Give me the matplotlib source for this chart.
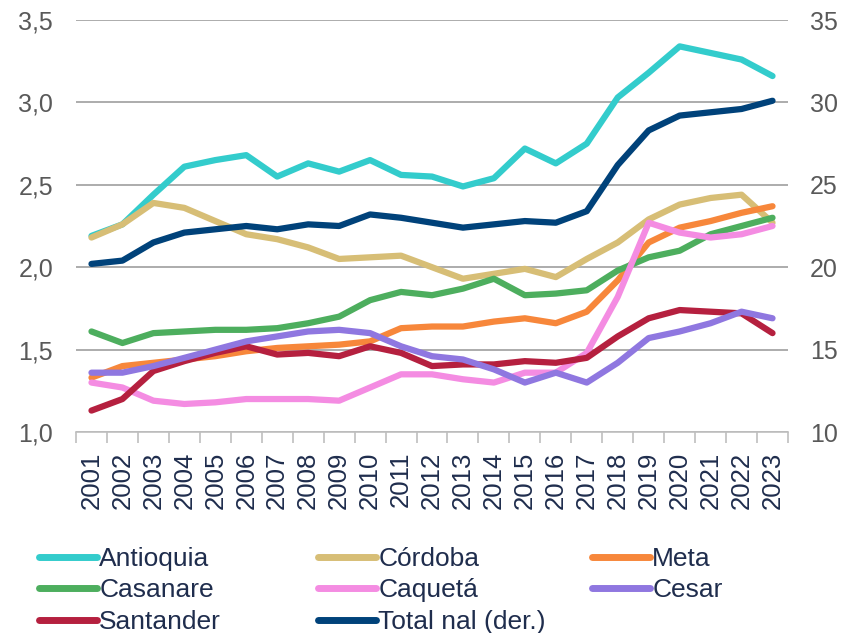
import matplotlib
matplotlib.use("Agg")
import matplotlib.pyplot as plt
from matplotlib.lines import Line2D

plt.rcParams['font.family'] = ['Liberation Sans', 'DejaVu Sans']

years = [str(y) for y in range(2001, 2024)]

antioquia = [2.19, 2.26, 2.44, 2.61, 2.65, 2.68, 2.55, 2.63, 2.58, 2.65, 2.56, 2.55,
             2.49, 2.54, 2.72, 2.63, 2.75, 3.03, 3.18, 3.34, 3.30, 3.26, 3.16]
cordoba = [2.18, 2.26, 2.39, 2.36, 2.28, 2.20, 2.17, 2.12, 2.05, 2.06, 2.07, 2.00,
           1.93, 1.96, 1.99, 1.94, 2.05, 2.15, 2.29, 2.38, 2.42, 2.44, 2.27]
meta = [1.33, 1.40, 1.42, 1.44, 1.46, 1.49, 1.51, 1.52, 1.53, 1.55, 1.63, 1.64,
        1.64, 1.67, 1.69, 1.66, 1.73, 1.92, 2.15, 2.24, 2.28, 2.33, 2.37]
casanare = [1.61, 1.54, 1.60, 1.61, 1.62, 1.62, 1.63, 1.66, 1.70, 1.80, 1.85, 1.83,
            1.87, 1.93, 1.83, 1.84, 1.86, 1.98, 2.06, 2.10, 2.20, 2.25, 2.30]
caqueta = [1.30, 1.27, 1.19, 1.17, 1.18, 1.20, 1.20, 1.20, 1.19, 1.27, 1.35, 1.35,
           1.32, 1.30, 1.36, 1.36, 1.48, 1.82, 2.27, 2.21, 2.18, 2.20, 2.25]
cesar = [1.36, 1.36, 1.40, 1.45, 1.50, 1.55, 1.58, 1.61, 1.62, 1.60, 1.52, 1.46,
         1.44, 1.38, 1.30, 1.36, 1.30, 1.42, 1.57, 1.61, 1.66, 1.73, 1.69]
santander = [1.13, 1.20, 1.37, 1.43, 1.48, 1.52, 1.47, 1.48, 1.46, 1.52, 1.48, 1.40,
             1.41, 1.41, 1.43, 1.42, 1.45, 1.58, 1.69, 1.74, 1.73, 1.72, 1.60]
total_nal = [20.2, 20.4, 21.5, 22.1, 22.3, 22.5, 22.3, 22.6, 22.5, 23.2, 23.0, 22.7,
             22.4, 22.6, 22.8, 22.7, 23.4, 26.2, 28.3, 29.2, 29.4, 29.6, 30.1]

series = [
    ("Antioquia", antioquia, "#33CCCC"),
    ("Córdoba", cordoba, "#D7BE76"),
    ("Meta", meta, "#F7873B"),
    ("Casanare", casanare, "#4DAE5E"),
    ("Caquetá", caqueta, "#F48CE2"),
    ("Santander", santander, "#B5203F"),
    ("Cesar", cesar, "#8F77E0"),
]
total_label = "Total nal (der.)"
total_color = "#00427A"

W, H = 843, 633
fig = plt.figure(figsize=(W / 100, H / 100), dpi=100)
left, right, bottom, top = 76 / W, 788 / W, 1 - 432 / H, 1 - 20 / H
ax = fig.add_axes([left, bottom, right - left, top - bottom])
ax2 = ax.twinx()

x = list(range(len(years)))
lw = 4.5
handles = {}
for name, vals, col in series:
    ax.plot(x, vals, color=col, lw=lw, solid_capstyle='round',
            solid_joinstyle='round', zorder=3)
    handles[name] = col
ax2.plot(x, total_nal, color=total_color, lw=lw, solid_capstyle='round',
         solid_joinstyle='round', zorder=3)
handles[total_label] = total_color

ax.set_xlim(-0.5, len(years) - 0.5)
ax.set_ylim(1.0, 3.5)
ax2.set_ylim(10, 35)
yt = [1.0, 1.5, 2.0, 2.5, 3.0, 3.5]
ax.set_yticks(yt)
ax.set_yticklabels([f"{v:.1f}".replace('.', ',') for v in yt])
ax2.set_yticks([10, 15, 20, 25, 30, 35])
ax.grid(axis='y', color='#A6A6A6', lw=1.3, zorder=0)
ax.set_axisbelow(True)

ax.set_xticks(x)
ax.set_xticklabels(years, rotation=90, color='#1F2D4D', fontsize=18.5)
ax.set_xticks([i - 0.5 for i in range(len(years) + 1)], minor=True)
ax.tick_params(axis='x', which='major', length=0, pad=14)
ax.tick_params(axis='x', which='minor', length=8, color='#BFBFBF', width=1.2)
ax.tick_params(axis='y', length=0, pad=16.5, labelcolor='#595959', labelsize=18)
ax2.tick_params(axis='y', length=0, pad=16, labelcolor='#595959', labelsize=18)

for a in (ax, ax2):
    for s in ('left', 'right', 'top'):
        a.spines[s].set_visible(False)
    a.spines['bottom'].set_color('#BFBFBF')
    a.spines['bottom'].set_linewidth(1.2)
ax2.spines['bottom'].set_visible(False)

cols = [
    (["Antioquia", "Casanare", "Santander"], 39),
    (["Córdoba", "Caquetá", total_label], 318),
    (["Meta", "Cesar"], 592),
]
for names, xpx in cols:
    hs = [Line2D([0], [0], color=handles[n], lw=5, solid_capstyle='round') for n in names]
    leg = fig.legend(hs, names, loc='upper left', bbox_to_anchor=(xpx / W, 1 - 547 / H),
                     frameon=False, fontsize=19, handlelength=2.2, handletextpad=0.08,
                     borderpad=0, borderaxespad=0, labelspacing=0.28)
    for t in leg.get_texts():
        t.set_color('#1F2D4D')

fig.savefig("out.png", dpi=100)
